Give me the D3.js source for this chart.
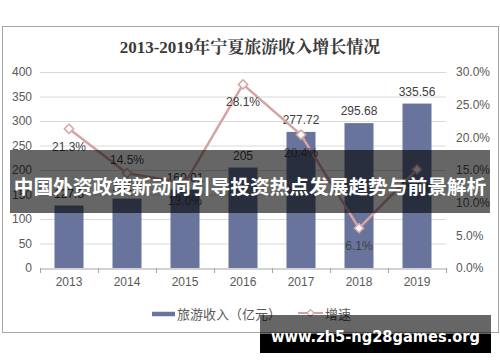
<!DOCTYPE html>
<html><head><meta charset="utf-8">
<script src="https://cdn.jsdelivr.net/npm/d3@7"></script>
<style>body{margin:0;background:#fff}svg{display:block}</style>
</head><body>
<svg id="c" width="500" height="362"></svg>
<script>
const years = ["2013","2014","2015","2016","2017","2018","2019"];
const revenue = [127.5, 141.6, 160.01, 205, 277.72, 295.68, 335.56];
const revenueLabels = ["127.5","141.6","160.01","205","277.72","295.68","335.56"];
const growth = [21.3, 14.5, 13.0, 28.1, 20.4, 6.1, 15.1];
const leftTicks = [0,50,100,150,200,250,300,350,400];
const rightTicks = [0,5,10,15,20,25,30];
const title = "2013-2019年宁夏旅游收入增长情况";
const seriesNames = ["旅游收入（亿元）","增速"];
const bannerText = "中国外资政策新动向引导投资热点发展趋势与前景解析";
const watermark = "www.zh5-ng28games.org";

const svg = d3.select("#c");
const W=500,H=362;
const plot = {l:40, r:446, t:72, b:268};
const barColor = "#68749c", lineColor = "#d6a3a3", axisText = "#595959";
const font = "'Liberation Sans', Arial, 'Noto Sans CJK SC', sans-serif";

// border
svg.append("rect").attr("x",2.5).attr("y",26.5).attr("width",496).attr("height",306)
  .attr("fill","#fff").attr("stroke","#a6a6a6");

svg.append("text").attr("x",250).attr("y",53).attr("text-anchor","middle")
  .attr("font-family","'Liberation Serif','Noto Serif CJK SC','Noto Sans CJK SC',serif")
  .attr("font-weight","bold").attr("font-size",17).attr("fill","#3a3a3a").text(title);

const x = d3.scaleBand().domain(years).range([plot.l,plot.r]).paddingInner(0.5).paddingOuter(0.25);
const xb = d3.scaleBand().domain(years).range([plot.l,plot.r]);
const yL = d3.scaleLinear().domain([0,400]).range([plot.b,plot.t]);
const yR = d3.scaleLinear().domain([0,30]).range([plot.b,plot.t]);

// grid
svg.append("g").selectAll("line").data(leftTicks.slice(1)).join("line")
  .attr("x1",plot.l).attr("x2",plot.r).attr("y1",d=>yL(d)+0.5).attr("y2",d=>yL(d)+0.5)
  .attr("stroke","#d9d9d9").attr("stroke-width",1);

// left axis labels
const gl = svg.append("g").attr("transform",`translate(${plot.l},0)`)
  .call(d3.axisLeft(yL).tickValues(leftTicks).tickSize(0).tickPadding(8));
gl.select(".domain").remove();
gl.selectAll("text").attr("font-family",font).attr("font-size",12).attr("fill",axisText);

const gr = svg.append("g").attr("transform",`translate(${plot.r},0)`)
  .call(d3.axisRight(yR).tickValues(rightTicks).tickSize(0).tickPadding(10).tickFormat(d=>d.toFixed(1)+"%"));
gr.select(".domain").remove();
gr.selectAll("text").attr("font-family",font).attr("font-size",12).attr("fill",axisText);

// bars
svg.append("g").selectAll("rect").data(years).join("rect")
  .attr("x",d=>x(d)).attr("width",x.bandwidth())
  .attr("y",(d,i)=>yL(revenue[i])).attr("height",(d,i)=>yL(0)-yL(revenue[i]))
  .attr("fill",barColor);

// bottom axis
const gx = svg.append("g").attr("transform",`translate(0,${plot.b+0.5})`)
  .call(d3.axisBottom(xb).tickSize(0).tickPadding(9));
gx.select(".domain").attr("stroke","#a6a6a6");
gx.selectAll("text").attr("font-family",font).attr("font-size",12).attr("fill",axisText);
svg.append("g").selectAll("line").data(years.concat(["end"])).join("line")
  .attr("x1",(d,i)=>plot.l+i*xb.bandwidth()+0.5).attr("x2",(d,i)=>plot.l+i*xb.bandwidth()+0.5)
  .attr("y1",plot.b).attr("y2",plot.b+5).attr("stroke","#a6a6a6");

// bar labels
svg.append("g").selectAll("text").data(years).join("text")
  .attr("x",d=>x(d)+x.bandwidth()/2).attr("y",(d,i)=>yL(revenue[i])-8)
  .attr("text-anchor","middle").attr("font-family",font).attr("font-size",12).attr("fill","#404040")
  .text((d,i)=>revenueLabels[i]);

// line
const cx = d=>xb(d)+xb.bandwidth()/2;
svg.append("path").datum(years)
  .attr("d",d3.line().x(cx).y((d,i)=>yR(growth[i])))
  .attr("fill","none").attr("stroke",lineColor).attr("stroke-width",2.5);
const diamond = d3.symbol().type(d3.symbolDiamond2).size(55);
svg.append("g").selectAll("path").data(years).join("path")
  .attr("d",diamond).attr("transform",(d,i)=>`translate(${cx(d)},${yR(growth[i])})`)
  .attr("fill","#fff").attr("stroke",lineColor).attr("stroke-width",1.5);
const above = [false,true,false,false,false,false,false];
svg.append("g").selectAll("text").data(years).join("text")
  .attr("x",cx).attr("y",(d,i)=>yR(growth[i])+(above[i]?-9:22))
  .attr("text-anchor","middle").attr("font-family",font).attr("font-size",12).attr("fill","#404040")
  .text((d,i)=>growth[i].toFixed(1)+"%");

// legend
const lg = svg.append("g");
lg.append("line").attr("x1",152).attr("x2",175).attr("y1",314).attr("y2",314).attr("stroke",barColor).attr("stroke-width",4.5);
lg.append("text").attr("x",177).attr("y",319).attr("font-family","'Noto Sans CJK SC',sans-serif")
  .attr("font-size",13).attr("fill",axisText).text(seriesNames[0]);
lg.append("line").attr("x1",298).attr("x2",323).attr("y1",313).attr("y2",313).attr("stroke",lineColor).attr("stroke-width",2);
lg.append("path").attr("d",d3.symbol().type(d3.symbolDiamond2).size(30)).attr("transform","translate(310.5,313)")
  .attr("fill","#fff").attr("stroke",lineColor).attr("stroke-width",1.2);
lg.append("text").attr("x",325).attr("y",319).attr("font-family","'Noto Sans CJK SC',sans-serif")
  .attr("font-size",13).attr("fill",axisText).text(seriesNames[1]);

// banner overlay
svg.append("rect").attr("x",10).attr("y",150).attr("width",480).attr("height",63).attr("fill","rgba(0,0,0,0.6)");
svg.append("text").attr("x",250).attr("y",194).attr("text-anchor","middle")
  .attr("font-family","'Noto Sans CJK SC',sans-serif").attr("font-weight","bold")
  .attr("font-size",19.7).attr("fill","#fff").text(bannerText);

// watermark
svg.append("rect").attr("x",260).attr("y",334).attr("width",231).attr("height",19).attr("fill","#000");
svg.append("rect").attr("x",260).attr("y",315).attr("width",231).attr("height",19).attr("fill","rgba(0,0,0,0.6)");
svg.append("text").attr("x",271).attr("y",342).attr("font-family","'DejaVu Sans',sans-serif").attr("font-weight","bold")
  .attr("font-size",16).attr("textLength",209).attr("lengthAdjust","spacingAndGlyphs").attr("fill","#fff").text(watermark);
</script>
</body></html>
